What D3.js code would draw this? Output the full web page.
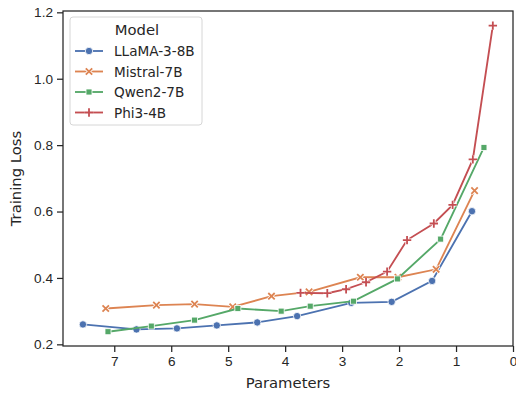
<!DOCTYPE html>
<html>
<head>
<meta charset="utf-8">
<script src="https://cdn.jsdelivr.net/npm/d3@7"></script>
<style>
  body { margin: 0; background: #fff; }
  svg { font-family: "DejaVu Sans", sans-serif; }
  .axis text { fill: #262626; font-size: 13.6px; }
  .axis path, .axis line { stroke: #262626; stroke-width: 1.25; }
</style>
</head>
<body>
<svg width="516" height="394"></svg>
<script>
// data
const models = ["LLaMA-3-8B", "Mistral-7B", "Qwen2-7B", "Phi3-4B"];
const colors = ["#4c72b0", "#dd8452", "#55a868", "#c44e52"];
const markers = ["circle", "x", "square", "plus"];

const llamaX = [7.55, 6.61, 5.90, 5.20, 4.49, 3.79, 2.84, 2.13, 1.42, 0.72];
const llamaY = [0.260, 0.245, 0.248, 0.257, 0.266, 0.285, 0.325, 0.328, 0.391, 0.601];
const mistralX = [7.15, 6.26, 5.59, 4.92, 4.24, 3.58, 2.68, 2.02, 1.35, 0.675];
const mistralY = [0.308, 0.318, 0.321, 0.313, 0.345, 0.358, 0.402, 0.402, 0.426, 0.663];
const qwenX = [7.11, 6.35, 5.59, 4.83, 4.07, 3.56, 2.80, 2.03, 1.27, 0.51];
const qwenY = [0.238, 0.255, 0.273, 0.308, 0.300, 0.315, 0.330, 0.397, 0.517, 0.793];
const phiX = [3.73, 3.26, 2.93, 2.58, 2.21, 1.86, 1.39, 1.06, 0.705, 0.354];
const phiY = [0.355, 0.354, 0.366, 0.387, 0.419, 0.514, 0.564, 0.620, 0.757, 1.160];

const xTicks = [7, 6, 5, 4, 3, 2, 1, 0];
const yTicks = [0.2, 0.4, 0.6, 0.8, 1.0, 1.2];

const seriesX = [llamaX, mistralX, qwenX, phiX];
const seriesY = [llamaY, mistralY, qwenY, phiY];

const plotL = 63, plotR = 513, plotT = 11, plotB = 346;

const svg = d3.select("svg");

const x = d3.scaleLinear().domain([7.9, 0]).range([plotL, plotR]);
const y = d3.scaleLinear().domain([0.195, 1.204]).range([plotB, plotT]);

// axes
svg.append("g")
   .attr("class", "axis")
   .attr("transform", "translate(0," + plotB + ")")
   .call(d3.axisBottom(x).tickValues(xTicks).tickFormat(d3.format("d")).tickSizeInner(6).tickSizeOuter(0).tickPadding(4))
   .call(g => g.select(".domain").remove());

svg.append("g")
   .attr("class", "axis")
   .attr("transform", "translate(" + plotL + ",0)")
   .call(d3.axisLeft(y).tickValues(yTicks).tickFormat(d3.format(".1f")).tickSizeInner(6).tickSizeOuter(0).tickPadding(4))
   .call(g => g.select(".domain").remove());

// frame
svg.append("rect")
   .attr("x", plotL).attr("y", plotT)
   .attr("width", plotR - plotL).attr("height", plotB - plotT)
   .attr("fill", "none")
   .attr("stroke", "#262626")
   .attr("stroke-width", 1.25);

svg.append("text")
   .attr("x", (plotL + plotR) / 2).attr("y", 388)
   .attr("text-anchor", "middle")
   .attr("fill", "#262626")
   .style("font-size", "14.8px")
   .text("Parameters");

svg.append("text")
   .attr("transform", "translate(21," + (plotT + plotB) / 2 + ") rotate(-90)")
   .attr("text-anchor", "middle")
   .attr("fill", "#262626")
   .style("font-size", "14.8px")
   .text("Training Loss");

function drawMarker(g, type, color, cx, cy) {
  if (type === "circle") {
    g.append("circle").attr("cx", cx).attr("cy", cy).attr("r", 3.7)
     .attr("fill", color).attr("stroke", "#fff").attr("stroke-width", 0.8);
  } else if (type === "square") {
    g.append("rect").attr("x", cx - 3).attr("y", cy - 3).attr("width", 6).attr("height", 6)
     .attr("fill", color).attr("stroke", "#fff").attr("stroke-width", 0.8);
  } else if (type === "x") {
    const s = 3.2;
    g.append("path").attr("d", `M${cx-s},${cy-s}L${cx+s},${cy+s}M${cx-s},${cy+s}L${cx+s},${cy-s}`)
     .attr("stroke", "#fff").attr("stroke-width", 3.4);
    g.append("path").attr("d", `M${cx-s},${cy-s}L${cx+s},${cy+s}M${cx-s},${cy+s}L${cx+s},${cy-s}`)
     .attr("stroke", color).attr("stroke-width", 1.8);
  } else if (type === "plus") {
    const s = 4.2;
    g.append("path").attr("d", `M${cx-s},${cy}L${cx+s},${cy}M${cx},${cy-s}L${cx},${cy+s}`)
     .attr("stroke", "#fff").attr("stroke-width", 3.4);
    g.append("path").attr("d", `M${cx-s},${cy}L${cx+s},${cy}M${cx},${cy-s}L${cx},${cy+s}`)
     .attr("stroke", color).attr("stroke-width", 1.8);
  }
}

const line = d3.line().x(d => x(d[0])).y(d => y(d[1]));

models.forEach((m, i) => {
  const pts = seriesX[i].map((v, j) => [v, seriesY[i][j]]);
  const g = svg.append("g");
  g.append("path")
   .datum(pts)
   .attr("d", line)
   .attr("fill", "none")
   .attr("stroke", colors[i])
   .attr("stroke-width", 1.85);
  pts.forEach(p => drawMarker(g, markers[i], colors[i], x(p[0]), y(p[1])));
});

// legend
const lg = svg.append("g");
lg.append("rect")
  .attr("x", 70).attr("y", 17)
  .attr("width", 132).attr("height", 108)
  .attr("rx", 3)
  .attr("fill", "#fff").attr("fill-opacity", 0.8)
  .attr("stroke", "#d6d6d6").attr("stroke-width", 1);
lg.append("text")
  .attr("x", 137).attr("y", 35)
  .attr("text-anchor", "middle")
  .attr("fill", "#262626")
  .style("font-size", "14.8px")
  .text("Model");
models.forEach((m, i) => {
  const ly = 51 + i * 20.5;
  lg.append("line")
    .attr("x1", 75).attr("x2", 103).attr("y1", ly).attr("y2", ly)
    .attr("stroke", colors[i]).attr("stroke-width", 1.85);
  drawMarker(lg, markers[i], colors[i], 89, ly);
  lg.append("text")
    .attr("x", 114).attr("y", ly + 5)
    .attr("fill", "#262626")
    .style("font-size", "13.6px")
    .text(m);
});
</script>
</body>
</html>
